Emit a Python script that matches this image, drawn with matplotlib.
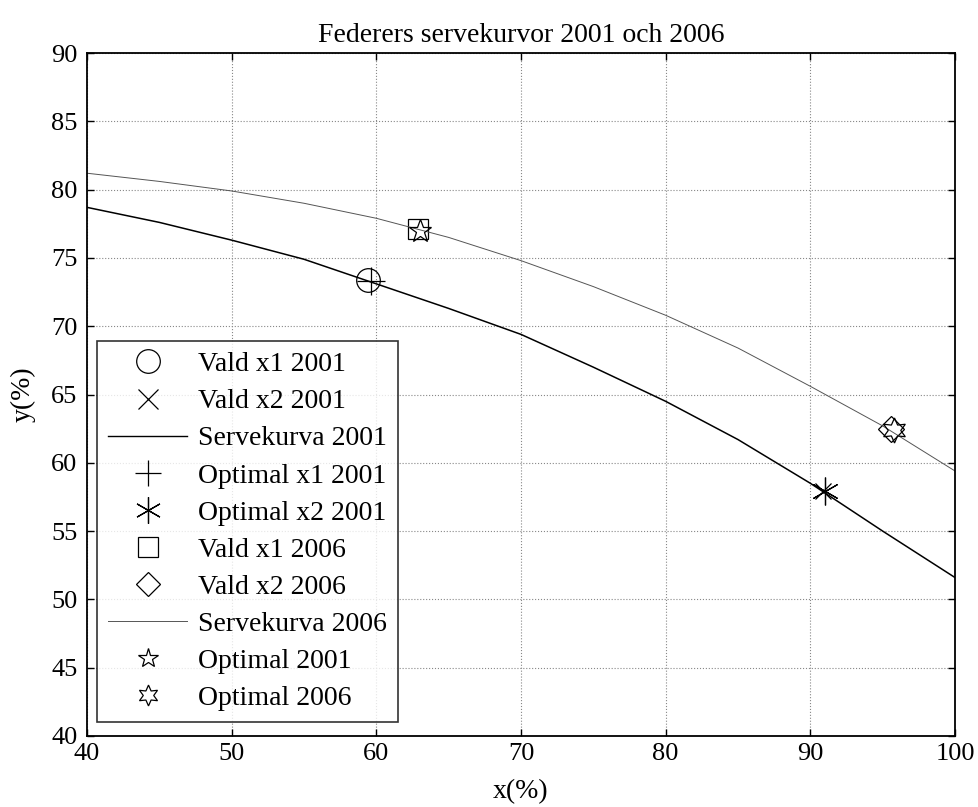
import matplotlib
import numpy as np

matplotlib.use("Agg")
import matplotlib.pyplot as plt
from matplotlib.lines import Line2D

plt.rcParams["font.family"] = ["Liberation Serif", "DejaVu Serif"]

# serve curves
x_2001 = [40, 45, 50, 55, 60, 65, 70, 75, 80, 85, 90, 95, 100]
y_2001 = [78.7, 77.6, 76.3, 74.9, 73.1, 71.3, 69.4, 67.0, 64.5, 61.7, 58.5, 55.0, 51.6]
x_2006 = [40, 45, 50, 55, 60, 65, 70, 75, 80, 85, 90, 95, 100]
y_2006 = [81.2, 80.6, 79.9, 79.0, 77.9, 76.5, 74.8, 72.9, 70.8, 68.4, 65.6, 62.7, 59.4]

# chosen / optimal points
vald_2001 = [(59.4, 73.4), (90.9, 57.9)]
opt_2001 = [(59.6, 73.3), (91.0, 57.9)]
vald_2006 = [(62.9, 77.1), (95.6, 62.5)]
opt_star = (63.0, 77.0)
opt_hex = (95.8, 62.4)

title = "Federers servekurvor 2001 och 2006"
labels = ["Vald x1 2001", "Vald x2 2001", "Servekurva 2001", "Optimal x1 2001",
          "Optimal x2 2001", "Vald x1 2006", "Vald x2 2006", "Servekurva 2006",
          "Optimal 2001", "Optimal 2006"]

fig = plt.figure(figsize=(9.79, 8.07), dpi=100)
ax = fig.add_axes([0.0889, 0.088, 0.8866, 0.8463])

mk = dict(linestyle="none", color="black", markerfacecolor="none", markeredgewidth=0.9)
ax.plot(*vald_2001[0], marker="o", markersize=17, **mk)
ax.plot(*vald_2001[1], marker="x", markersize=12, **mk)
ax.plot(x_2001, y_2001, color="black", lw=1.1)
ax.plot(*opt_2001[0], marker="+", markersize=20, **mk)
ax.plot(*opt_2001[1], marker=(6, 2, 0), markersize=20, **mk)
ax.plot(*vald_2006[0], marker="s", markersize=15, **mk)
ax.plot(*vald_2006[1], marker="D", markersize=13, **mk)
ax.plot(x_2006, y_2006, color="#555555", lw=0.7)
ax.plot(*opt_star, marker="*", markersize=17, **mk)
ax.plot(*opt_hex, marker=(6, 1, 0), markersize=18, **mk)

ax.set_xlim(40, 100)
ax.set_ylim(40, 90)
ax.set_xticks(np.arange(40, 101, 10))
ax.set_yticks(np.arange(40, 91, 5))
ax.grid(True, color="#888888", linestyle=":", linewidth=0.8)
ax.tick_params(direction="in", top=True, right=True, labelsize=19, length=5, width=1)
ax.tick_params(axis="y", pad=7)
ax.tick_params(axis="x", pad=5)
for s in ax.spines.values():
    s.set_linewidth(1.3)

ax.set_title(title, fontsize=20, pad=8)
ax.set_xlabel("x(%)", fontsize=20, labelpad=10)
ax.set_ylabel("y(%)", fontsize=20, labelpad=11)

# legend handles
leg_handles = [
    Line2D([], [], marker="o", markersize=17, **mk),
    Line2D([], [], marker="x", markersize=14, **mk),
    Line2D([], [], color="black", lw=1.0),
    Line2D([], [], marker="+", markersize=19, **mk),
    Line2D([], [], marker=(6, 2, 0), markersize=19, **mk),
    Line2D([], [], marker="s", markersize=15, **mk),
    Line2D([], [], marker="D", markersize=12.5, **mk),
    Line2D([], [], color="#555555", lw=0.7),
    Line2D([], [], marker="*", markersize=15, **mk),
    Line2D([], [], marker=(6, 1, 0), markersize=15, **mk),
]
leg = ax.legend(leg_handles, labels, loc="lower left", bbox_to_anchor=(0.0115, 0.02),
                fontsize=20, frameon=True, fancybox=False, edgecolor="black",
                handlelength=2.85, labelspacing=0.42, borderpad=0.4,
                handletextpad=0.38, borderaxespad=0)
leg.get_frame().set_linewidth(1.2)

fig.savefig("out.png", dpi=100)
